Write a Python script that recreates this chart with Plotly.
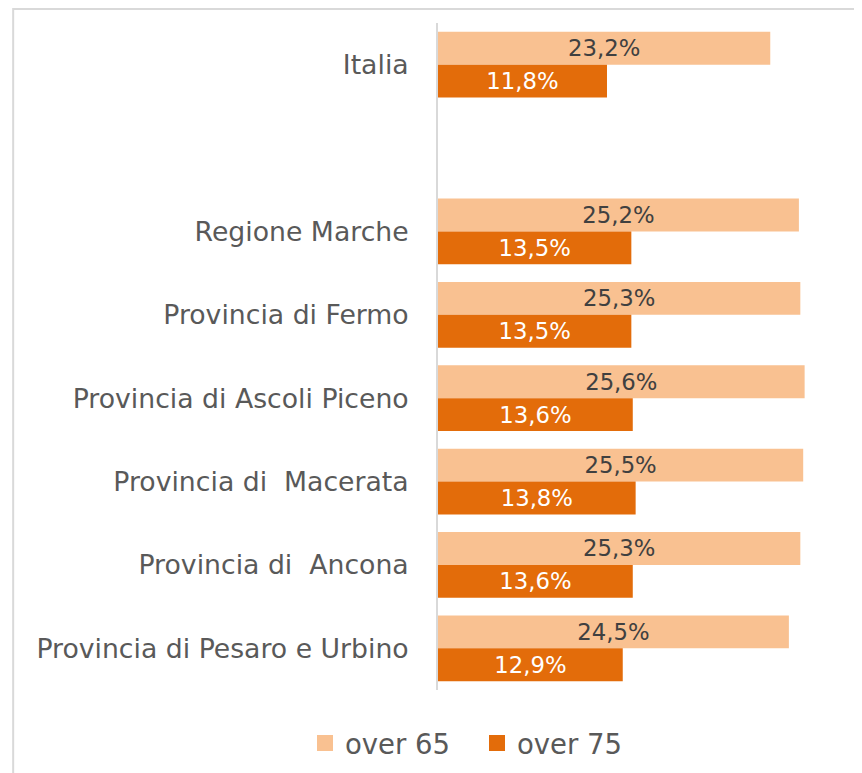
import plotly.graph_objects as go

categories = ["Italia", " ", "Regione Marche", "Provincia di Fermo",
              "Provincia di Ascoli Piceno", "Provincia di  Macerata",
              "Provincia di  Ancona", "Provincia di Pesaro e Urbino"]
over65 = [23.2, None, 25.2, 25.3, 25.6, 25.5, 25.3, 24.5]
over75 = [11.8, None, 13.5, 13.5, 13.6, 13.8, 13.6, 12.9]
series_names = ["over 65", "over 75"]
colors = ["#F9C191", "#E36C0A"]

# page has an 8px body margin; work in figure coordinates
W, H = 854, 765
L, T, B = 430, 15, 83
PX_PER_UNIT = 14.31
XMAX = 28
plot_w = XMAX * PX_PER_UNIT
R = W - L - plot_w
plot_h = H - T - B
FONT = "DejaVu Sans"

fig = go.Figure()
for vals, name, col, tcol in zip([over65, over75], series_names, colors,
                                 ["#404040", "#FFFFFF"]):
    fig.add_trace(go.Bar(
        y=categories, x=vals, orientation="h", name=name, showlegend=False,
        marker=dict(color=col, line=dict(width=0)),
        texttemplate="%{x:.1f}%", textposition="inside", insidetextanchor="middle",
        textfont=dict(color=tcol, size=24.5, family=FONT),
        hoverinfo="skip",
    ))
for name, col in zip(series_names, colors):
    fig.add_trace(go.Scatter(
        x=[None], y=[None], mode="markers", name=name,
        marker=dict(symbol="square", size=18, color=col, line=dict(width=0)),
    ))

fig.update_layout(
    width=W, height=H,
    margin=dict(l=L, r=R, t=T, b=B, pad=0),
    paper_bgcolor="white", plot_bgcolor="white",
    barmode="group", bargap=0.21, bargroupgap=0,
    separators=",.",
    font=dict(family=FONT, color="#595959"),
    showlegend=True,
    legend=dict(orientation="h", xref="container", x=297 / W, xanchor="left",
                yref="container", y=(H - 735) / H, yanchor="middle",
                font=dict(size=27.5, color="#595959"), traceorder="normal",
                itemwidth=30, entrywidth=127, borderwidth=0,
                bgcolor="rgba(0,0,0,0)"),
    xaxis=dict(range=[0, XMAX], showgrid=False, showticklabels=False,
               zeroline=False, showline=False, ticks=""),
    yaxis=dict(autorange="reversed", type="category", categoryorder="array",
               categoryarray=categories, showgrid=False, showline=True,
               linecolor="#D9D9D9", linewidth=2, ticks="",
               tickfont=dict(size=26.7, color="#595959"), ticklabelstandoff=22),
    shapes=[dict(type="rect", xref="paper", yref="paper",
                 x0=(5.5 - L) / plot_w, x1=3,
                 y0=-2, y1=(H - B - 1) / plot_h,
                 line=dict(color="#D9D9D9", width=2), layer="below")],
)
fig.write_html("out.html")
